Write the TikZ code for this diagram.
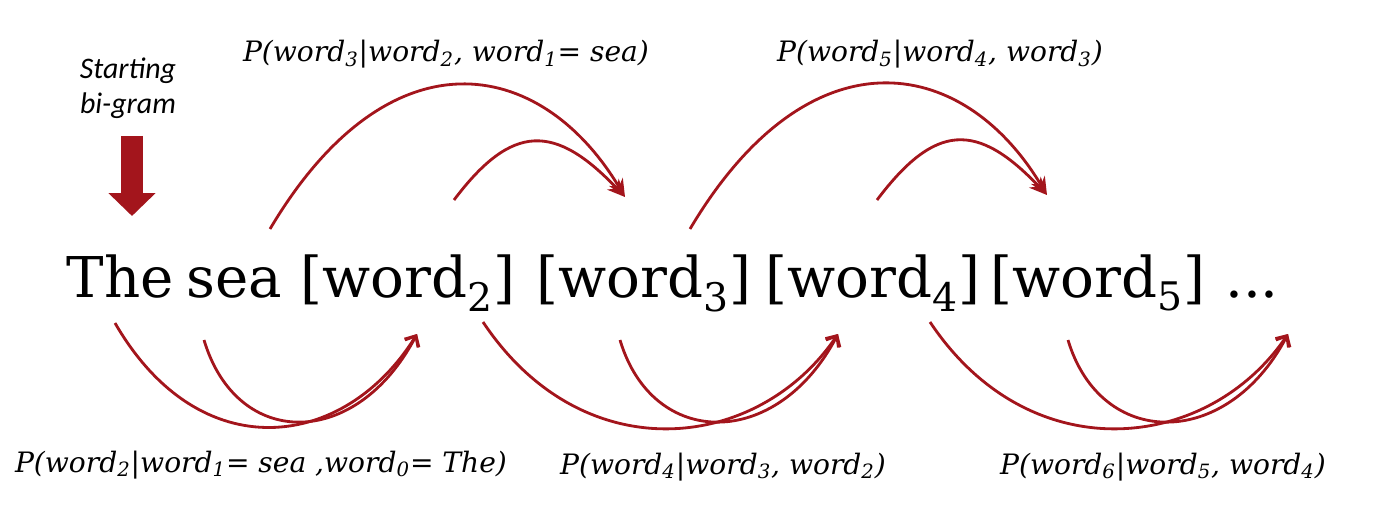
\documentclass[tikz,border=0pt]{standalone}
\usepackage{fontspec}
\setmainfont{DejaVu Serif}
\newfontfamily\calibrifont{Carlito}
\usepackage{xcolor}
\usetikzlibrary{arrows.meta,calc}
\definecolor{arcred}{HTML}{A3151C}
\newcommand{\wrd}[1]{word\textsubscript{#1}}

\begin{document}
\begin{tikzpicture}[x=0.02cm, y=-0.02cm,
% common options for the words of the sentence:
word/.style = {anchor=base, inner sep=0, font=\fontsize{32}{38}\selectfont},
% common options for the probabilities:
prob/.style = {anchor=base, inner sep=0, font=\fontsize{16}{19}\selectfont\itshape},
% common options for the arcs:
arcup/.style = {draw=arcred, line width=1.6pt, -{Stealth[length=10pt,width=9pt]}},
arcdown/.style = {draw=arcred, line width=1.6pt, -{Straight Barb[length=5pt,width=9pt]}}]

\useasboundingbox (0,0) rectangle (1400,513);

% Starting bi-gram
\node[font=\calibrifont\itshape\fontsize{17}{20}\selectfont, align=center] (start) at (128,88) {Starting\\bi-gram};
\coordinate (arrtail) at (132,136);
\coordinate (arrtip) at (132,216);
\draw[arcred, line width=0.44cm, -{Triangle[length=0.46cm,width=0.92cm]}] (arrtail) -- (arrtip);

% Sentence
\node[word] (the) at (120,297) {The};
\node[word] (sea) at (234,297) {sea};
\node[word] (w2) at (408,297) {[\wrd{2}]};
\node[word] (w3) at (644,297) {[\wrd{3}]};
\node[word] (w4) at (873,297) {[\wrd{4}]};
\node[word] (w5) at (1098,297) {[\wrd{5}]};
\node[word] (dots) at (1252,297) {...};

% upper arcs
\draw[arcup] ($(sea.base)+(36,-68)$) .. controls +(118,-199) and +(-85,-142) .. ($(w3.base)+(-19,-100)$);
\draw[arcup] ($(w2.base)+(46,-97)$) .. controls +(58,-77) and +(-70,-74) .. ($(w3.base)+(-19,-100)$);
\draw[arcup] ($(w3.base)+(46,-68)$) .. controls +(118,-199) and +(-85,-142) .. ($(w5.base)+(-51,-102)$);
\draw[arcup] ($(w4.base)+(4,-97)$) .. controls +(58,-77) and +(-70,-74) .. ($(w5.base)+(-51,-102)$);

% lower arcs
\draw[arcdown] ($(the.base)+(-5,26)$) .. controls +(85,147) and +(-72,116) .. ($(w2.base)+(9,37)$);
\draw[arcdown] ($(sea.base)+(-30,43)$) .. controls +(33,110) and +(-61,116) .. ($(w2.base)+(9,37)$);
\draw[arcdown] ($(w2.base)+(75,25)$) .. controls +(100,150) and +(-80,118) .. ($(w4.base)+(-35,37)$);
\draw[arcdown] ($(w3.base)+(-24,43)$) .. controls +(33,110) and +(-61,116) .. ($(w4.base)+(-35,37)$);
\draw[arcdown] ($(w4.base)+(57,25)$) .. controls +(100,150) and +(-80,118) .. ($(dots.base)+(36,37)$);
\draw[arcdown] ($(w5.base)+(-30,43)$) .. controls +(33,110) and +(-61,116) .. ($(dots.base)+(36,37)$);

% Probabilities
\node[prob] (tlab1) at (446,62) {P(\wrd{3}|\wrd{2}, \wrd{1}= sea)};
\node[prob] (tlab2) at (940,62) {P(\wrd{5}|\wrd{4}, \wrd{3})};
\node[prob] (blab1) at (261,472) {P(\wrd{2}|\wrd{1}= sea ,\wrd{0}= The)};
\node[prob] (blab2) at (723,474) {P(\wrd{4}|\wrd{3}, \wrd{2})};
\node[prob] (blab3) at (1163,474) {P(\wrd{6}|\wrd{5}, \wrd{4})};
\end{tikzpicture}
\end{document}
